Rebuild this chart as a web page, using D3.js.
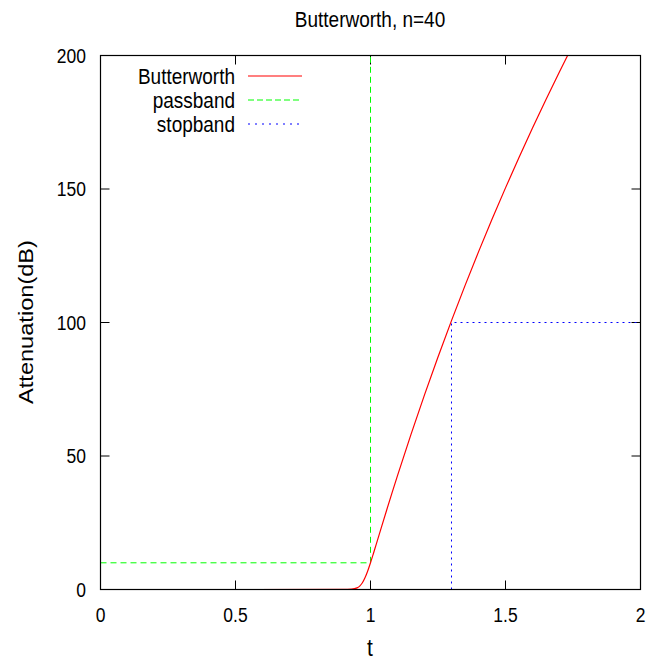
<!DOCTYPE html>
<html>
<head>
<meta charset="utf-8">
<script src="https://cdn.jsdelivr.net/npm/d3@7"></script>
<style>
  body { margin: 0; background: #fff; }
  text { font-family: "Liberation Sans", Arial, sans-serif; font-size: 19px; fill: #000; }
</style>
</head>
<body>
<svg id="chart" width="649" height="662"></svg>
<script>
// values
var tValues   = [0, 0.5, 0.9, 0.93, 0.95, 0.96, 0.97, 0.98, 0.99, 1.0, 1.01, 1.02, 1.04, 1.06, 1.08, 1.1,
                 1.15, 1.2, 1.25, 1.3, 1.35, 1.4, 1.45, 1.5, 1.55, 1.6, 1.65, 1.7, 1.73];
var attValues = [0, 0, 0.01, 0.12, 0.6, 1.28, 2.52, 4.45, 7.01, 10, 13.21, 16.52, 23.19, 29.79, 36.28, 42.66,
                 58.1, 72.89, 87.07, 100.7, 113.81, 126.45, 138.64, 150.42, 161.81, 172.84, 183.53, 193.9, 200];
var passband = [[0, 10], [1, 10], [1, 200]];
var stopband = [[1.3, 0], [1.3, 100], [2, 100]];
var xTicks = [0, 0.5, 1, 1.5, 2];
var yTicks = [0, 50, 100, 150, 200];
var legendNames = ["Butterworth", "passband", "stopband"];

var svg = d3.select("#chart");
var pLeft = 100.5, pRight = 640.5, pTop = 55.5, pBottom = 589.5;
var stretch = 1.18; // the reference text is a bit taller than wide

var x = d3.scaleLinear().domain([0, 2]).range([pLeft, pRight]);
var y = d3.scaleLinear().domain([0, 200]).range([pBottom, pTop]);

// puts a text with its baseline at (px, py), stretched upward
function label(px, py, str, anchor, size) {
  return svg.append("text")
    .attr("transform", "translate(" + px + "," + py + ") scale(1," + stretch + ")")
    .attr("text-anchor", anchor)
    .style("font-size", size + "px")
    .text(str);
}

// title
label(370, 27, "Butterworth, n=40", "middle", 19);

// ticks, gnuplot style: inward on all four sides
var tl = 9;
var g = svg.append("g").attr("stroke", "#000").attr("stroke-width", 1);
xTicks.forEach(function(v){
  g.append("line").attr("x1", x(v)).attr("x2", x(v)).attr("y1", pBottom).attr("y2", pBottom - tl);
  g.append("line").attr("x1", x(v)).attr("x2", x(v)).attr("y1", pTop).attr("y2", pTop + tl);
});
yTicks.forEach(function(v){
  g.append("line").attr("x1", pLeft).attr("x2", pLeft + tl).attr("y1", y(v)).attr("y2", y(v));
  g.append("line").attr("x1", pRight).attr("x2", pRight - tl).attr("y1", y(v)).attr("y2", y(v));
});

xTicks.forEach(function(v){ label(x(v), 622, v, "middle", 17.5); });
yTicks.forEach(function(v){ label(86, y(v) + 7, v, "end", 17.5); });

label(370, 656, "t", "middle", 21);
svg.append("text")
  .attr("transform", "translate(33,322) rotate(-90) scale(" + stretch + ",1)")
  .attr("text-anchor", "middle")
  .style("font-size", "20px")
  .text("Attenuation(dB)");

// clip for the lines
svg.append("clipPath").attr("id", "plotclip")
  .append("rect").attr("x", pLeft).attr("y", pTop).attr("width", pRight - pLeft).attr("height", pBottom - pTop);

var line = d3.line()
  .x(function(d){ return x(d[0]); })
  .y(function(d){ return y(d[1]); });

var curve = tValues.map(function(t, i){ return [t, attValues[i]]; });
var plot = svg.append("g").attr("clip-path", "url(#plotclip)");

plot.append("path").datum(passband).attr("d", line)
  .attr("fill", "none").attr("stroke", "#00ff00").attr("stroke-width", 1).attr("stroke-dasharray", "6,4");
plot.append("path").datum(stopband).attr("d", line)
  .attr("fill", "none").attr("stroke", "#0000ff").attr("stroke-width", 1).attr("stroke-dasharray", "2,4");
plot.append("path").datum(curve).attr("d", line.curve(d3.curveMonotoneX))
  .attr("fill", "none").attr("stroke", "#ff0000").attr("stroke-width", 1.2);

// border
svg.append("rect").attr("x", pLeft).attr("y", pTop).attr("width", pRight - pLeft).attr("height", pBottom - pTop)
  .attr("fill", "none").attr("stroke", "#000").attr("stroke-width", 1.2);

// legend
var legendStyles = [
  {color: "#ff0000", dash: null},
  {color: "#00ff00", dash: "6,3"},
  {color: "#0000ff", dash: "2,5"}
];
legendNames.forEach(function(name, i){
  var ly = 76 + i * 24;
  label(235, ly + 7.5, name, "end", 19);
  svg.append("line").attr("x1", 248).attr("x2", 302).attr("y1", ly).attr("y2", ly)
    .attr("stroke", legendStyles[i].color).attr("stroke-width", 1.2)
    .attr("stroke-dasharray", legendStyles[i].dash);
});
</script>
</body>
</html>
